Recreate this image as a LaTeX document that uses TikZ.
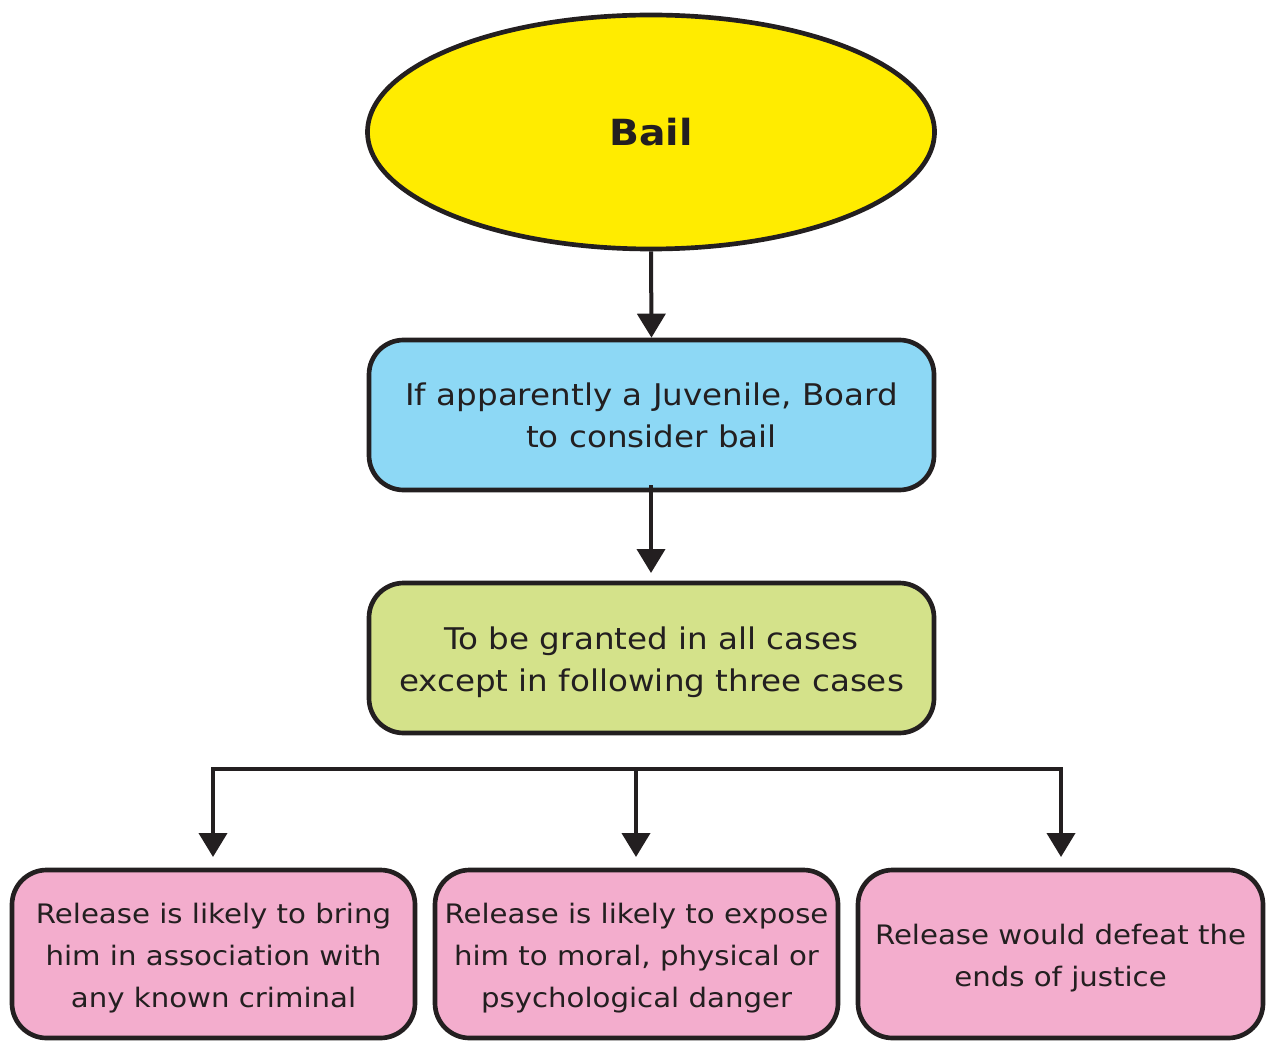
\documentclass[tikz,border=0pt]{standalone}
\usepackage{fontspec}
\setmainfont[FakeStretch=1.09]{DejaVu Sans}
\usetikzlibrary{arrows.meta,shapes.geometric}
\definecolor{txt}{HTML}{231F20}
\definecolor{ylw}{HTML}{FFEC00}
\definecolor{blu}{HTML}{8DD8F5}
\definecolor{grn}{HTML}{D4E28A}
\definecolor{pnk}{HTML}{F3ADCD}
\tikzset{
  box/.style={draw=txt, line width=3.5pt, rounded corners=26pt, align=center, text=txt,
    font=\fontsize{22.4}{31.5}\selectfont, inner sep=0pt},
  pbox/.style={box, fill=pnk, font=\fontsize{20.1}{31.5}\selectfont, minimum height=168*0.75pt},
  conn/.style={draw=txt, line width=3pt, -{Triangle[width=21pt,length=18pt]}},
  plain/.style={draw=txt, line width=3pt}
}
\begin{document}
\begin{tikzpicture}[x=0.75pt,y=-0.75pt]
\useasboundingbox (0,0) rectangle (1266,1041);
\node[ellipse, draw=txt, line width=3.5pt, fill=ylw, minimum width=567*0.75pt, minimum height=234*0.75pt, inner sep=0pt,
  font=\bfseries\fontsize{27}{30}\selectfont, text=txt] (bail) at (651,132) {Bail};
\node[box, fill=blu, minimum width=565*0.75pt, minimum height=150*0.75pt] (juv) at (651.5,415) {If apparently a Juvenile, Board\\to consider bail};
\node[box, fill=grn, minimum width=565*0.75pt, minimum height=150*0.75pt] (grant) at (651.5,658) {\rule{0pt}{24pt}To be granted in all cases\\except in following three cases};
\node[pbox, minimum width=403*0.75pt] (c1) at (213.5,954) {\rule{0pt}{22pt}Release is likely to bring\\him in association with\\any known criminal};
\node[pbox, minimum width=403*0.75pt] (c2) at (636.5,954) {\rule{0pt}{22pt}Release is likely to expose\\him to moral, physical or\\psychological danger};
\node[pbox, minimum width=405*0.75pt] (c3) at (1060.5,954) {\rule{0pt}{22pt}Release would defeat the\\ends of justice};
\coordinate (s) at (651,485);
\coordinate (hl) at (213,769);
\coordinate (hm) at (636,769);
\coordinate (hr) at (1061,769);
\coordinate (a1) at (213,857);
\coordinate (a2) at (636,857);
\coordinate (a3) at (1061,857);
\coordinate (g) at (651,573);
\draw[conn] (bail.south) -- (juv.north);
\draw[conn] (s) -- (g);
\draw[plain] ([xshift=-1.5pt]hl) -- ([xshift=1.5pt]hr);
\draw[conn] ([yshift=1.5pt]hl) -- (a1);
\draw[conn] (hm) -- (a2);
\draw[conn] ([yshift=1.5pt]hr) -- (a3);
\end{tikzpicture}
\end{document}
